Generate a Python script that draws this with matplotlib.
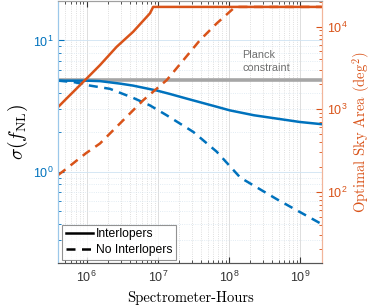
import numpy as np
import matplotlib
matplotlib.use("Agg")
import matplotlib.pyplot as plt
from matplotlib.lines import Line2D
from matplotlib.ticker import LogLocator, NullFormatter

plt.rcParams['font.family'] = ['Liberation Sans', 'DejaVu Sans']
plt.rcParams['mathtext.fontset'] = 'cm'

# ---- data ----
hours_sig_int = [4e5, 1e6, 1.54e6, 2.94e6, 4.47e6, 9.7e6, 1.48e7, 2.56e7,
                 6.76e7, 1.03e8, 2.24e8, 9.9e8, 2e9]
sigma_int     = [4.94, 4.94, 4.90, 4.69, 4.53, 4.15, 3.91, 3.60,
                 3.12, 2.93, 2.69, 2.39, 2.30]

hours_sig_noint = [4e5, 6.85e5, 1.11e6, 2.12e6, 4.5e6, 7.74e6, 1.33e7, 3.14e7,
                   6.7e7, 1.44e8, 4.71e8, 2e9]
sigma_noint     = [4.94, 4.80, 4.53, 4.28, 3.65, 3.20, 2.69, 2.01,
                   1.42, 0.90, 0.615, 0.398]

hours_area_int = [4e5, 5.24e5, 9.8e5, 1.54e6, 2.64e6, 4.5e6, 7.74e6, 8.6e6, 2e9]
area_int       = [1067, 1349, 2307, 3415, 5689, 8650, 14450, 17300, 17300]

hours_area_noint = [4e5, 4.95e5, 9.8e5, 1.54e6, 3.27e6, 6.24e6, 1.33e7, 2.28e7,
                    3.9e7, 6.7e7, 1.15e8, 1.22e8, 2e9]
area_noint       = [160, 184, 293, 384, 736, 1285, 2244, 3917,
                    6839, 10914, 16560, 17300, 17300]

planck_sigma = 5.0
legend_labels = ["Interlopers", "No Interlopers"]

blue = "#0072BD"
orange = "#D95319"

fig = plt.figure(figsize=(3.74, 3.06), dpi=100)
ax1 = fig.add_axes([58.3/374, 1-263.3/306, (321.7-58.3)/374, (263.3-1)/306])
ax2 = ax1.twinx()

ax1.axhline(planck_sigma, color="#a6a6a6", lw=2.6, zorder=2)
ax1.plot(hours_sig_int, sigma_int, color=blue, lw=1.8, zorder=3)
ax1.plot(hours_sig_noint, sigma_noint, color=blue, lw=1.8, ls=(0, (3.6, 2.6)), zorder=3)

ax2.plot(hours_area_int, area_int, color=orange, lw=1.8)
ax2.plot(hours_area_noint, area_noint, color=orange, lw=1.8, ls=(0, (3.6, 2.6)))

ax1.set_xscale("log")
ax1.set_yscale("log")
ax2.set_yscale("log")
ax1.set_xlim(4e5, 2e9)
ax1.set_ylim(0.2, 20)
ax2.set_ylim(13.6, 20400)

ax1.xaxis.set_major_locator(LogLocator(base=10, numticks=20))
ax1.xaxis.set_minor_locator(LogLocator(base=10, subs=np.arange(2, 10), numticks=20))
ax1.xaxis.set_minor_formatter(NullFormatter())
for a in (ax1, ax2):
    a.yaxis.set_minor_locator(LogLocator(base=10, subs=np.arange(2, 10), numticks=20))
    a.yaxis.set_minor_formatter(NullFormatter())

ax1.set_xticks([1e6, 1e7, 1e8, 1e9])
ax1.set_yticks([1, 10])
ax2.set_yticks([100, 1000, 10000])

# grid
ax1.grid(True, which="major", axis="x", color="#d8d8d8", lw=0.6)
ax1.grid(True, which="minor", axis="x", color="#d4d4d4", lw=0.6, ls=":")
ax1.grid(True, which="major", axis="y", color="#cfe3f3", lw=0.6)
ax1.grid(True, which="minor", axis="y", color="#d9e6f0", lw=0.6, ls=":")
ax1.set_axisbelow(True)

# ticks
ax1.tick_params(axis="x", which="both", direction="in", top=True, colors="#333333",
                labelsize=9, pad=5)
ax1.tick_params(axis="x", which="major", length=4)
ax1.tick_params(axis="x", which="minor", length=2)
ax1.tick_params(axis="y", which="both", direction="in", colors=blue, labelsize=9)
ax1.tick_params(axis="y", which="major", length=4)
ax1.tick_params(axis="y", which="minor", length=2)
ax2.tick_params(axis="y", which="both", direction="in", colors=orange, labelsize=9)
ax2.tick_params(axis="y", which="major", length=4)
ax2.tick_params(axis="y", which="minor", length=2)

for a in (ax1, ax2):
    a.spines["left"].set_color("#9cc8ea")
    a.spines["right"].set_color("#f2b59a")
    a.spines["top"].set_color("#a0a0a0")
    a.spines["bottom"].set_color("#555555")
    for s in a.spines.values():
        s.set_linewidth(0.8)

ax1.set_xlabel("Spectrometer-Hours", family="cmr10", fontsize=10.5, labelpad=4)
ax1.set_ylabel(r"$\sigma(f_{\rm NL})$", fontsize=14, labelpad=2)
ax2.set_ylabel(r"Optimal Sky Area (deg$^2$)", family="cmr10", fontsize=10.5,
               color=orange, labelpad=2)

ax1.text(1.52e8, 6.9, "Planck\nconstraint", color="#707070", fontsize=7.8,
         ha="left", va="center", linespacing=1.3)

handles = [Line2D([], [], color="black", lw=1.8),
           Line2D([], [], color="black", lw=1.8, ls=(0, (3.6, 2.6)))]
leg = ax2.legend(handles, legend_labels, loc="lower left", fontsize=8.7,
                 frameon=True, fancybox=False, edgecolor="#777777",
                 handlelength=2.3, handletextpad=0.2, borderpad=0.3,
                 labelspacing=0.3, borderaxespad=0.3)
leg.get_frame().set_linewidth(0.8)

fig.savefig("out.png", dpi=100)
